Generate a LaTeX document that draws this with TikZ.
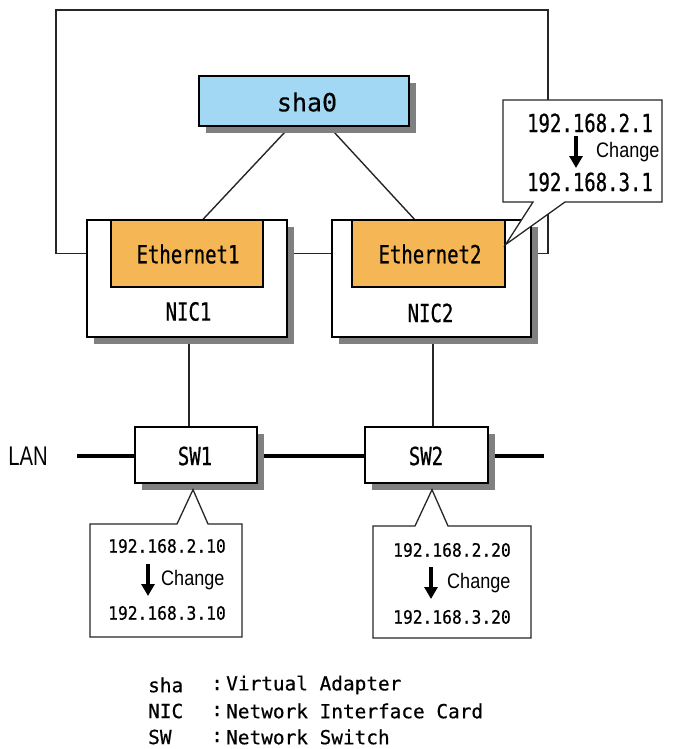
\documentclass[tikz,border=0pt]{standalone}
\usepackage{fontspec}
\usetikzlibrary{shadows,arrows.meta,calc}
\newfontfamily\monoN[FakeStretch=0.76,FakeBold=0.6]{DejaVu Sans Mono}
\newfontfamily\monoIP[FakeStretch=0.88,FakeBold=0.5]{DejaVu Sans Mono}
\newfontfamily\monoW[FakeBold=0.5]{DejaVu Sans Mono}
\newfontfamily\sansL[FakeStretch=0.75]{Liberation Sans}
\newfontfamily\sansC[FakeStretch=0.86]{Liberation Sans}
\pgfdeclarelayer{background}
\pgfsetlayers{background,main}
\definecolor{shablue}{HTML}{A3D8F4}
\definecolor{ethorange}{HTML}{F5B756}
\begin{document}
\begin{tikzpicture}[x=1pt,y=-1pt,
  shbox/.style={draw=black, line width=1.3pt, fill=white, inner sep=0pt,
    general shadow={fill=black!50, shadow xshift=7pt, shadow yshift=-7pt}},
  ethbox/.style={draw=black, line width=1.3pt, fill=ethorange, inner sep=0pt,
    minimum width=152pt, minimum height=67pt},
  bigtxt/.style={font=\monoN\fontsize{25}{28}\selectfont, inner sep=0pt},
  iptxt/.style={font=\monoIP\fontsize{18.5}{20}\selectfont, inner sep=0pt},
  chtxt/.style={font=\sansC\fontsize{21}{24}\selectfont, inner sep=0pt, anchor=west},
  legtxt/.style={font=\monoW\fontsize{19.4}{22}\selectfont, inner sep=0pt, anchor=west},
  conn/.style={line width=1.4pt, draw=black!85},
  lan/.style={line width=4pt, draw=black},
  callout/.style={draw=black!85, line width=1.3pt, fill=white, line join=miter},
  chg/.style={line width=3.8pt, -{Triangle[width=13pt,length=12pt]}}]
\useasboundingbox (0,0) rectangle (679,749);

% main boxes
\node[shbox, fill=shablue, minimum width=210pt, minimum height=50pt] (sha0) at (304,101) {};
\node[font=\monoW\fontsize{25}{28}\selectfont, inner sep=0pt] (shatxt) at (307,102) {sha0};
\node[shbox, minimum width=200pt, minimum height=117pt] (NIC1) at (187,278.5) {};
\node[shbox, minimum width=199pt, minimum height=117pt] (NIC2) at (431.5,278.5) {};
\node[ethbox] (Eth1) at (187,253.5) {};
\node[ethbox, minimum width=153pt] (Eth2) at (428.5,253.5) {};
\node[bigtxt] (Eth1txt) at (188,254) {Ethernet1};
\node[bigtxt] (Eth2txt) at (430,254) {Ethernet2};
\node[bigtxt] (NIC1txt) at (188.5,311.5) {NIC1};
\node[bigtxt] (NIC2txt) at (430.5,313) {NIC2};
\node[shbox, minimum width=122pt, minimum height=56pt] (SW1) at (196,455) {};
\node[shbox, minimum width=123pt, minimum height=56pt] (SW2) at (426.5,455) {};
\node[bigtxt] (SW1txt) at (195,456) {SW1};
\node[bigtxt] (SW2txt) at (426,456) {SW2};
\node[font=\sansL\fontsize{27}{30}\selectfont, inner sep=0pt] (LAN) at (28,456) {LAN};

% free ends of connectors
\coordinate (loopTL) at (56,10);
\coordinate (loopTR) at (548,10);
\coordinate (lanL) at (77,456);
\coordinate (lanR) at (544,456);

\begin{pgfonlayer}{background}
  \draw[conn] (NIC1.west |- Eth1.center) -| (loopTL) -- (loopTR) |- (NIC2.east |- Eth2.center);
  \draw[conn] (NIC1.east |- Eth1.center) -- (NIC2.west |- Eth2.center);
  \draw[conn] ([xshift=-14pt]sha0.south) -- ([xshift=16pt]Eth1.north);
  \draw[conn] ([xshift=25pt]sha0.south) -- ([xshift=-14pt]Eth2.north);
  \draw[conn] ([xshift=2pt]NIC1.south) -- ([xshift=2pt]NIC1.south |- SW1.north);
  \draw[conn] ([xshift=1.5pt]NIC2.south) -- ([xshift=1.5pt]NIC2.south |- SW2.north);
  \draw[lan] (lanL) -- (lanL -| SW1.west);
  \draw[lan] (SW1.east |- lanL) -- (SW2.west |- lanL);
  \draw[lan] (SW2.east |- lanR) -- (lanR);
\end{pgfonlayer}

% callout NIC2
\coordinate (tip3) at ([yshift=9pt]Eth2.east);
\draw[callout] (503,100) -- (662,100) -- (662,202) -- (565,202) -- (tip3) -- (533,202) -- (503,202) -- cycle;
\node[bigtxt] (ip3a) at (590,123) {192.168.2.1};
\node[bigtxt] (ip3b) at (590,182) {192.168.3.1};
\coordinate (a3s) at (576,136);
\coordinate (a3e) at (576,168);
\draw[chg] (a3s) -- (a3e);
\node[chtxt] (ch3) at (596,152) {Change};

% callout SW1
\coordinate (tip1) at ([xshift=-3pt,yshift=-6pt]SW1.south);
\draw[callout] (90,524) -- (177,524) -- (tip1) -- (208,524) -- (242,524) -- (242,637) -- (90,637) -- cycle;
\node[iptxt] (ip1a) at (167,546) {192.168.2.10};
\node[iptxt] (ip1b) at (167,613) {192.168.3.10};
\coordinate (a1s) at (148,564);
\coordinate (a1e) at (148,596);
\draw[chg] (a1s) -- (a1e);
\node[chtxt] (ch1) at (161,580) {Change};

% callout SW2
\coordinate (tip2) at ([xshift=5.5pt,yshift=-6pt]SW2.south);
\draw[callout] (373,526) -- (415,526) -- (tip2) -- (448,526) -- (531,526) -- (531,638) -- (373,638) -- cycle;
\node[iptxt] (ip2a) at (452,550) {192.168.2.20};
\node[iptxt] (ip2b) at (452,617) {192.168.3.20};
\coordinate (a2s) at (431,567);
\coordinate (a2e) at (431,599);
\draw[chg] (a2s) -- (a2e);
\node[chtxt] (ch2) at (447,583) {Change};

% legend
\node[legtxt] (lg1) at (148,685) {sha};
\node[legtxt] (lg1c) at (211,685) {:};
\node[legtxt] (lg1d) at (226,685) {Virtual Adapter};
\node[legtxt] (lg2) at (148,711) {NIC};
\node[legtxt] (lg2c) at (211,711) {:};
\node[legtxt] (lg2d) at (226,711) {Network Interface Card};
\node[legtxt] (lg3) at (148,737) {SW};
\node[legtxt] (lg3c) at (211,737) {:};
\node[legtxt] (lg3d) at (226,737) {Network Switch};
\end{tikzpicture}
\end{document}
